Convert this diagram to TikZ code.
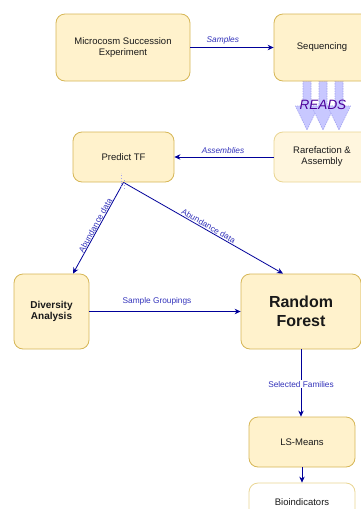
\documentclass[tikz,border=0pt]{standalone}
\usepackage{fontspec}
\setmainfont{Liberation Sans}
\usetikzlibrary{arrows.meta,calc}
\definecolor{boxfill}{HTML}{FFF2CC}
\definecolor{boxdraw}{HTML}{D6B656}
\definecolor{palefill}{HTML}{FFF6DE}
\definecolor{paledraw}{HTML}{E9D592}
\definecolor{linkblue}{HTML}{000099}
\definecolor{labelblue}{HTML}{3333BB}
\definecolor{readsfill}{HTML}{C8C8FF}
\definecolor{readsdraw}{HTML}{A3A3F0}
\definecolor{readstext}{HTML}{4C0099}
\begin{document}
\begin{tikzpicture}[x=1pt,y=-1pt,
  box/.style={draw=boxdraw, fill=boxfill, rounded corners=9pt, line width=0.8pt,
    align=center, font=\fontsize{9.5}{11}\selectfont, text=black!90, inner sep=0pt},
  link/.style={draw=linkblue, line width=0.8pt, -{Stealth[length=6pt,width=5.5pt]}},
  lbl/.style={font=\fontsize{8.3}{10}\selectfont, text=labelblue, inner sep=1pt},
  blockarrow/.style={fill=readsfill, draw=readsdraw, line width=0.6pt, dash pattern=on 1.5pt off 1pt}
]
\useasboundingbox (0,0) rectangle (361,509);
\clip (0,0) rectangle (361,509);

% READS block arrows
\foreach \cx in {307,323,339}{
  \path[blockarrow] ({\cx-4},81) -- ({\cx+4},81) -- ({\cx+4},106) -- ({\cx+11.5},106)
    -- (\cx,130) -- ({\cx-11.5},106) -- ({\cx-4},106) -- cycle;
}
\node[font=\fontsize{13.5}{15}\selectfont\itshape, text=readstext, inner sep=0pt] (reads) at (323,105) {READS};

% boxes
\node[box, minimum width=134pt, minimum height=67pt] (mc) at (123,47.5) {Microcosm Succession\\Experiment};
\node[box, minimum width=96pt, minimum height=67pt] (seq) at (322,47.5) {Sequencing};
\node[box, draw=paledraw, fill=palefill, minimum width=96pt, minimum height=50pt] (rar) at (322,157) {Rarefaction \&\\Assembly};
\node[box, minimum width=101pt, minimum height=50pt] (ptf) at (123.5,157) {Predict TF};
\node[box, minimum width=75pt, minimum height=75pt, font=\fontsize{10}{10.8}\selectfont\bfseries] (div) at (51.5,311.5) {Diversity\\Analysis};
\node[box, minimum width=120pt, minimum height=75pt, font=\fontsize{16}{19}\selectfont\bfseries] (rf) at (301,311.5) {Random\\Forest};
\node[box, minimum width=106pt, minimum height=50pt] (ls) at (302,442) {LS-Means};
\node[box, draw=paledraw, fill=white, minimum width=106pt, minimum height=38pt] (bio) at (302,502) {Bioindicators};

% connectors
\draw[link] (mc.east) -- node[lbl, above=2pt, pos=0.39, font=\fontsize{8.3}{10}\selectfont\itshape] {Samples} (seq.west);
\draw[link] (rar.west) -- node[lbl, above=2pt, pos=0.51, font=\fontsize{8.3}{10}\selectfont\itshape] {Assemblies} (ptf.east);
\draw[link] (ptf.south) -- node[lbl, sloped, above, pos=0.49, inner sep=0.5pt] {Abundance data} ([xshift=21.5pt]div.north);
\draw[link] (ptf.south) -- node[lbl, sloped, above, pos=0.52] {Abundance data} ([xshift=-18pt]rf.north);
\draw[link] (div.east) -- node[lbl, above=5pt, pos=0.447] {Sample Groupings} (div.east -| rf.west);
\draw[link] (rf.south) -- node[lbl, fill=white, pos=0.52] {Selected Families} (rf.south |- ls.north);
\draw[link] (ls.south) -- (ls.south |- bio.north);

% faint dotted trace under Predict TF
\draw[readsdraw, dotted, line width=0.6pt] ([xshift=-2pt,yshift=-4pt]ptf.south) -- ++(0,-13);
\draw[readsdraw, dotted, line width=0.6pt] ([xshift=1pt,yshift=-6pt]ptf.south) -- ++(0,-10);
\end{tikzpicture}
\end{document}
